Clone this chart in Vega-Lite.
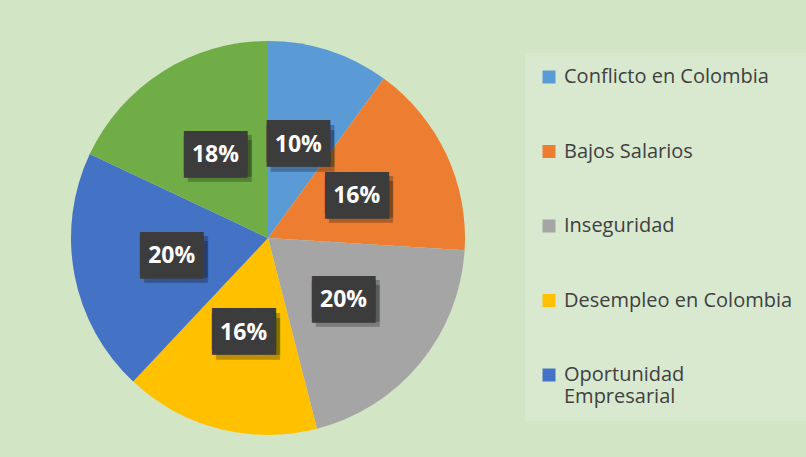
{
  "$schema": "https://vega.github.io/schema/vega-lite/v6.json",
  "width": 394,
  "height": 394,
  "autosize": {"type": "none"},
  "padding": {"left": 71, "top": 41, "right": 341, "bottom": 22},
  "background": "#d2e6c6",
  "config": {"view": {"stroke": null}},
  "data": {
    "values": [
      {"cat": "Conflicto en Colombia", "v": 10, "o": 1, "lab": "10%"},
      {"cat": "Bajos Salarios", "v": 16, "o": 2, "lab": "16%"},
      {"cat": "Inseguridad", "v": 20, "o": 3, "lab": "20%"},
      {"cat": "Desempleo en Colombia", "v": 16, "o": 4, "lab": "16%"},
      {"cat": "Oportunidad Empresarial", "v": 20, "o": 5, "lab": "20%"},
      {"cat": "Otros", "v": 18, "o": 6, "lab": "18%"}
    ]
  },
  "encoding": {
    "theta": {"field": "v", "type": "quantitative", "stack": true},
    "order": {"field": "o", "type": "quantitative"},
    "detail": {"field": "cat"}
  },
  "layer": [
    {
      "mark": {"type": "arc", "outerRadius": 197},
      "encoding": {
        "color": {
          "field": "cat",
          "type": "nominal",
          "scale": {
            "domain": ["Conflicto en Colombia", "Bajos Salarios", "Inseguridad", "Desempleo en Colombia", "Oportunidad Empresarial", "Otros"],
            "range": ["#5b9bd5", "#ed7d31", "#a5a5a5", "#ffc000", "#4472c4", "#70ad47"]
          },
          "legend": {
            "orient": "none",
            "legendX": 454,
            "legendY": 12,
            "title": null,
            "values": ["Conflicto en Colombia", "Bajos Salarios", "Inseguridad", "Desempleo en Colombia", "Oportunidad Empresarial"],
            "fillColor": "#d9e9d0",
            "padding": 14,
            "symbolType": "square",
            "symbolSize": 169,
            "symbolStrokeWidth": 0,
            "labelFont": "Open Sans",
            "labelFontSize": 20,
            "labelColor": "#404040",
            "labelLimit": 300,
            "labelOffset": 5,
            "rowPadding": 54.5,
            "labelExpr": "datum.label == 'Oportunidad Empresarial' ? ['Oportunidad', 'Empresarial'] : datum.label"
          }
        }
      }
    },
    {
      "mark": {"type": "text", "radius": 98, "text": "███", "font": "DejaVu Sans Mono", "fontSize": 35, "baseline": "middle", "align": "center", "color": "#000000", "opacity": 0.25, "dx": 4, "dy": 2}
    },
    {
      "mark": {"type": "text", "radius": 98, "text": "███", "font": "DejaVu Sans Mono", "fontSize": 35, "baseline": "middle", "align": "center", "color": "#000000", "opacity": 0.25, "dx": 4, "dy": 7}
    },
    {
      "mark": {"type": "text", "radius": 98, "text": "███", "font": "DejaVu Sans Mono", "fontSize": 35, "baseline": "middle", "align": "center", "color": "#3c3c3c", "dy": -2.5}
    },
    {
      "mark": {"type": "text", "radius": 98, "text": "███", "font": "DejaVu Sans Mono", "fontSize": 35, "baseline": "middle", "align": "center", "color": "#3c3c3c", "dy": 2.5}
    },
    {
      "mark": {"type": "text", "radius": 98, "font": "Open Sans", "fontWeight": "bold", "fontSize": 23, "baseline": "middle", "align": "center", "color": "#ffffff"},
      "encoding": {"text": {"field": "lab"}}
    }
  ]
}
